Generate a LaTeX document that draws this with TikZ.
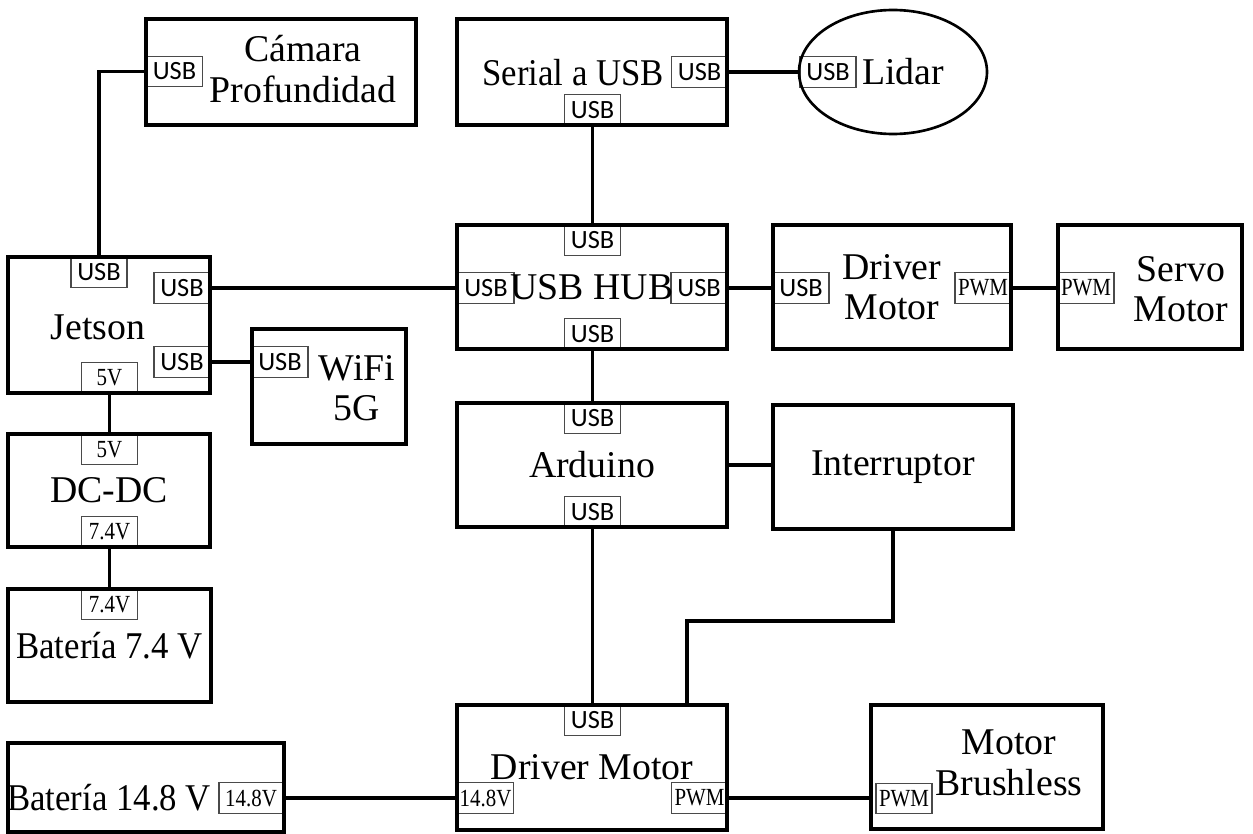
\documentclass[tikz,border=0pt]{standalone}
\usepackage{fontspec}
\setmainfont{Liberation Serif}
\newfontfamily\usbfam{Carlito}
\usepackage{tikz}
\usetikzlibrary{positioning,calc,shapes.geometric}
\definecolor{portgrey}{HTML}{4A4A4A}
\newcommand\bigtxt{\fontsize{21.5}{23}\selectfont}
\newcommand\narrowtxt{\bigtxt\addfontfeature{FakeStretch=0.92}}
\newcommand\smalltxt{\fontsize{14}{16}\selectfont\addfontfeature{FakeStretch=0.85}}
\newcommand\usbtxt{\usbfam\fontsize{15}{17}\selectfont}

\begin{document}
\begin{tikzpicture}[x=0.2mm,y=-0.2mm,
      blk/.style={draw,line width=2pt,inner sep=0pt,align=center,font=\bigtxt},
      txt/.style={inner sep=0pt,align=center,font=\bigtxt},
      port/.style={draw=portgrey,line width=0.8pt,inner sep=0pt,minimum width=11.2mm,
                   minimum height=6.1mm,font=\smalltxt},
      usb/.style={port,font=\usbtxt},
      wire/.style={line width=1.8pt}]
    \useasboundingbox (0,0) rectangle (1253,834);
    % ports first, so the thick box edges stay on top
    \node[usb] (camU) at (174.5,71.5) {USB};
    \node[usb] (serR) at (699.5,72) {USB};
    \node[usb] (serB) at (592.5,110) {USB};
    \node[usb] (lidU) at (828,72) {USB};
    \node[usb] (jetU) at (99,272) {USB};
    \node[usb] (jetR1) at (182,288) {USB};
    \node[usb] (jetR2) at (182,362) {USB};
    \node[port] (jet5) at (109.5,378) {5V};
    \node[usb] (wifU) at (280,362) {USB};
    \node[port] (dc5) at (109.5,449.5) {5V};
    \node[port] (dc74) at (109.5,532) {7.4V};
    \node[port] (bat74P) at (109.5,604.5) {7.4V};
    \node[usb] (hubT) at (592.5,240.5) {USB};
    \node[usb] (hubL) at (486,288) {USB};
    \node[usb] (hubR) at (699,288) {USB};
    \node[usb] (hubB) at (592.5,334) {USB};
    \node[usb] (drvU) at (801,288) {USB};
    \node[port] (drvP) at (983,288) {PWM};
    \node[port] (srvP) at (1086,288) {PWM};
    \node[usb] (ardT) at (592.5,418) {USB};
    \node[usb] (ardB) at (592.5,512) {USB};
    \node[usb] (drvbU) at (592.5,720.5) {USB};
    \node[port] (drvbV) at (485.5,798) {14.8V};
    \node[port] (drvbP) at (699.5,798) {PWM};
    \node[port,minimum width=12.8mm] (bat148P) at (251,798) {14.8V};
    \node[port] (mblP) at (904,798.5) {PWM};
    % blocks
    \node[blk,minimum width=54mm,minimum height=21.2mm] (cam) at (281,72) {};
    \node[txt] (camT) at (303,69) {Cámara\\Profundidad};
    \node[blk,minimum width=54mm,minimum height=21.2mm] (ser) at (592,72) {};
    \node[txt,font=\narrowtxt] (serT) at (573,73) {Serial a USB};
    \node[draw,ellipse,line width=1.5pt,minimum width=37.6mm,minimum height=24.8mm] (lid) at (893,72) {};
    \node[txt] (lidT) at (903,72) {Lidar};
    \node[blk,minimum width=40.4mm,minimum height=27.2mm] (jet) at (109,325) {};
    \node[txt] (jetT) at (98,327) {Jetson};
    \node[blk,minimum width=54mm,minimum height=24.8mm] (hub) at (592,287) {USB HUB};
    \node[blk,minimum width=47.6mm,minimum height=24.8mm] (drv) at (892,287) {Driver\\Motor};
    \node[blk,minimum width=36.8mm,minimum height=24.8mm] (srv) at (1150,287) {};
    \node[txt] (srvT) at (1181,289) {Servo\\Motor};
    \node[blk,minimum width=30.8mm,minimum height=23mm] (wifi) at (329,386.5) {};
    \node[txt] (wifiT) at (357,388) {WiFi\\5G};
    \node[blk,minimum width=40.4mm,minimum height=22.6mm] (dcdc) at (109,490.5) {DC-DC};
    \node[blk,minimum width=54mm,minimum height=24.8mm] (ard) at (592,465) {Arduino};
    \node[blk,minimum width=48mm,minimum height=24.8mm] (intr) at (893,467) {Interruptor};
    \node[blk,minimum width=40.6mm,minimum height=22.6mm,font=\narrowtxt] (bat74) at (109.5,645.5) {Batería 7.4 V};
    \node[blk,minimum width=55.2mm,minimum height=17.8mm] (bat148) at (146,787.5) {};
    \node[txt,font=\narrowtxt] (bat148T) at (109,798) {Batería 14.8 V};
    \node[blk,minimum width=54mm,minimum height=25mm] (drvb) at (592,767.5) {Driver Motor};
    \node[blk,minimum width=46.4mm,minimum height=24.8mm] (mbl) at (987,767) {};
    \node[txt] (mblT) at (1009,763) {Motor\\Brushless};
    % wiring
    \draw[wire] (camU.west) -| (jetU.north);
    \draw[wire] (serR.east) -- (lidU.west);
    \draw[wire] (serB.south) -- (hubT.north);
    \draw[wire] (jetR1.east) -- (hubL.west);
    \draw[wire] (jetR2.east) -- (wifU.west);
    \draw[wire] (jet5.south) -- (dc5.north);
    \draw[wire] (dc74.south) -- (bat74P.north);
    \draw[wire] (hubR.east) -- (drvU.west);
    \draw[wire] (drvP.east) -- (srvP.west);
    \draw[wire] (hubB.south) -- (ardT.north);
    \draw[wire] (ard.east) -- (intr.west |- ard.east);
    \draw[wire] (ardB.south) -- (drvbU.north);
    \coordinate (bend) at (687,621);
    \draw[wire] (intr.south) |- (bend) -- (bend |- drvb.north);
    \draw[wire] (bat148P.east) -- (drvbV.west);
    \draw[wire] (drvbP.east) -- (drvbP.east -| mbl.west);
  \end{tikzpicture}
\end{document}
